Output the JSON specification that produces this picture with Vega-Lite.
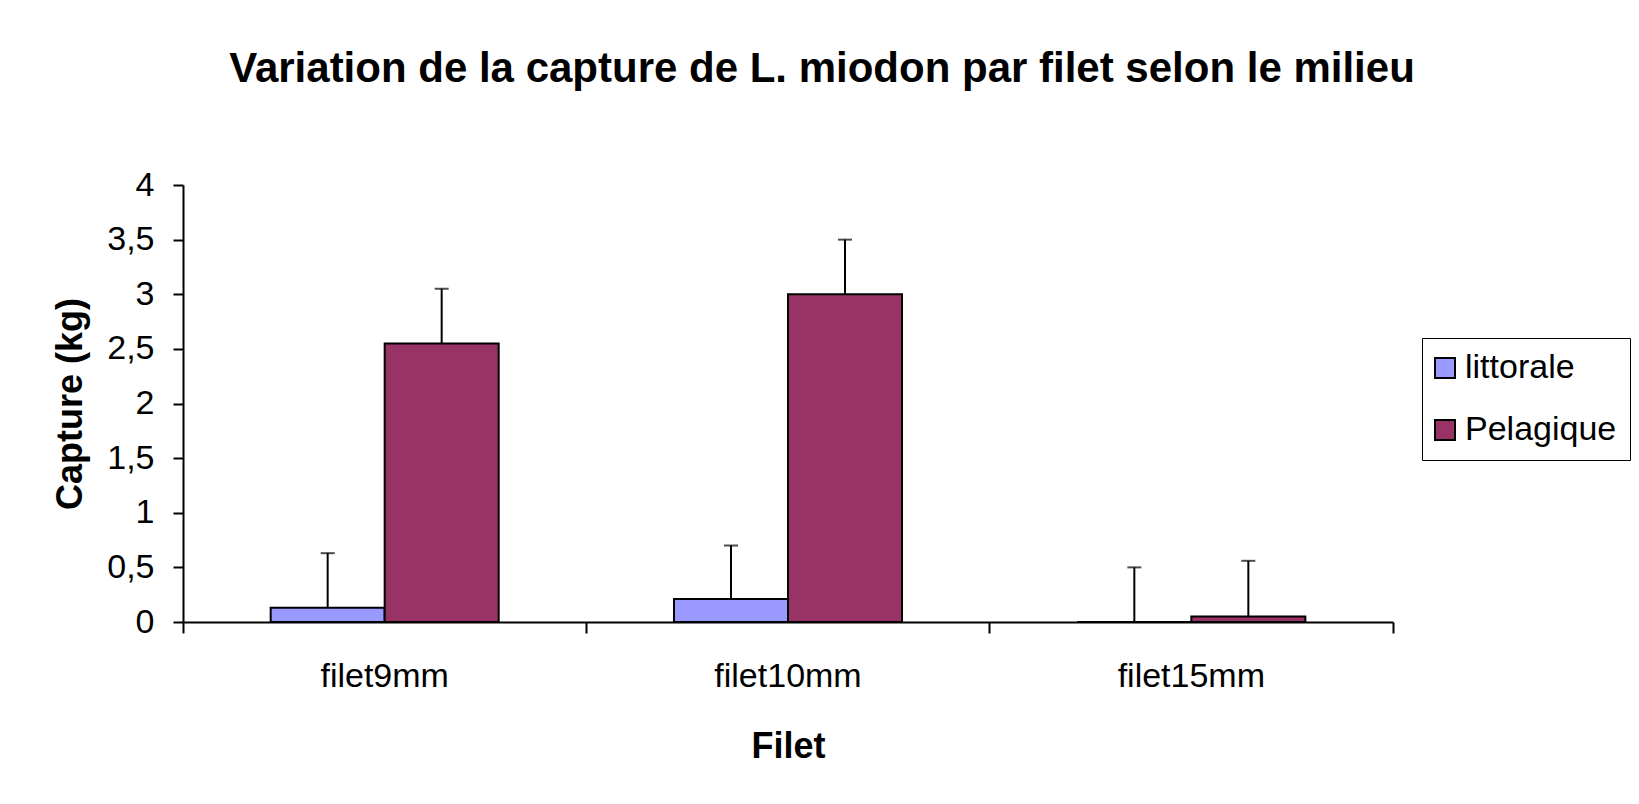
{
  "$schema": "https://vega.github.io/schema/vega-lite/v6.json",
  "width": 1210,
  "height": 437,
  "autosize": {"type": "none"},
  "padding": {"left": 183, "top": 185, "right": 246, "bottom": 182},
  "background": "white",
  "config": {
    "font": "Liberation Sans",
    "view": {"stroke": null},
    "axis": {"grid": false, "domainColor": "black", "domainWidth": 2, "tickColor": "black", "tickWidth": 2, "labelColor": "black", "titleColor": "black", "labelFont": "Liberation Sans", "titleFont": "Liberation Sans"}
  },
  "title": {
    "text": "Variation de la capture de L. miodon par filet selon le milieu",
    "font": "Liberation Sans",
    "fontSize": 42,
    "fontWeight": "bold",
    "color": "black",
    "anchor": "middle",
    "dx": 34,
    "offset": 77
  },
  "data": {
    "values": [
      {"filet": "filet9mm", "milieu": "littorale", "capture": 0.13, "upper": 0.63},
      {"filet": "filet9mm", "milieu": "Pelagique", "capture": 2.55, "upper": 3.05},
      {"filet": "filet10mm", "milieu": "littorale", "capture": 0.21, "upper": 0.7},
      {"filet": "filet10mm", "milieu": "Pelagique", "capture": 3.0, "upper": 3.5},
      {"filet": "filet15mm", "milieu": "littorale", "capture": 0, "upper": 0.5},
      {"filet": "filet15mm", "milieu": "Pelagique", "capture": 0.05, "upper": 0.56}
    ]
  },
  "encoding": {
    "x": {
      "field": "filet",
      "type": "nominal",
      "sort": ["filet9mm", "filet10mm", "filet15mm"],
      "scale": {"paddingInner": 0, "paddingOuter": 0},
      "axis": {
        "title": "Filet",
        "titleFontSize": 36,
        "titleFontWeight": "bold",
        "titlePadding": 36,
        "labelFontSize": 34,
        "labelAngle": 0,
        "labelPadding": 26,
        "tickSize": 11,
        "bandPosition": 1,
        "tickExtra": true
      }
    },
    "xOffset": {
      "field": "milieu",
      "type": "nominal",
      "sort": ["littorale", "Pelagique"],
      "scale": {"paddingInner": 0, "paddingOuter": 0.769}
    }
  },
  "layer": [
    {
      "mark": {"type": "bar", "stroke": "black", "strokeWidth": 2},
      "encoding": {
        "y": {
          "field": "capture",
          "type": "quantitative",
          "scale": {"domain": [0, 4], "nice": false},
          "axis": {
            "title": "Capture (kg)",
            "titleFontSize": 36,
            "titleFontWeight": "bold",
            "titlePadding": 17,
            "labelFontSize": 34,
            "labelPadding": 19,
            "tickSize": 10,
            "values": [0, 0.5, 1, 1.5, 2, 2.5, 3, 3.5, 4],
            "labelExpr": "replace(format(datum.value, '~g'), '.', ',')"
          }
        },
        "color": {
          "field": "milieu",
          "type": "nominal",
          "sort": ["littorale", "Pelagique"],
          "scale": {"domain": ["littorale", "Pelagique"], "range": ["#9999FF", "#993366"]},
          "legend": {
            "title": null,
            "orient": "none",
            "legendX": 1239,
            "legendY": 153,
            "padding": 13,
            "rowPadding": 28,
            "strokeColor": "black",
            "labelFontSize": 34,
            "labelFont": "Liberation Sans",
            "labelColor": "black",
            "labelOffset": 3,
            "symbolOffset": -7,
            "symbolType": "square",
            "symbolSize": 400,
            "symbolStrokeColor": "black",
            "symbolStrokeWidth": 2,
            "symbolOpacity": 1,
            "encoding": {"legend": {"update": {"strokeWidth": {"value": 2}}}}
          }
        }
      }
    },
    {
      "mark": {"type": "rule", "color": "black", "strokeWidth": 2},
      "encoding": {
        "y": {"field": "capture", "type": "quantitative"},
        "y2": {"field": "upper"}
      }
    },
    {
      "mark": {"type": "tick", "color": "black", "thickness": 2, "size": 14, "orient": "horizontal"},
      "encoding": {
        "y": {"field": "upper", "type": "quantitative"}
      }
    }
  ]
}
